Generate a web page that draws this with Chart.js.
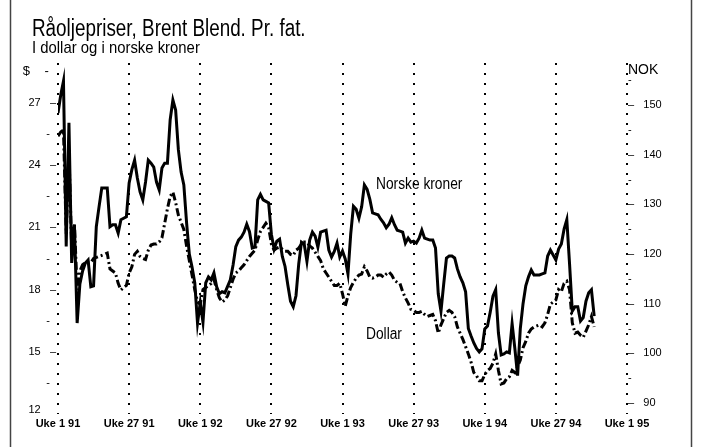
<!DOCTYPE html>
<html lang="no">
<head>
<meta charset="utf-8">
<title>Råoljepriser, Brent Blend</title>
<script src="https://cdn.jsdelivr.net/npm/chart.js@4.4.1/dist/chart.umd.min.js"></script>
<style>
  html, body { margin: 0; padding: 0; background: #fff; }
  canvas { display: block; }
</style>
</head>
<body>
<canvas id="chart" width="703" height="447"></canvas>
<script>
// Ukespriser fra uke 1 1991 (indeks 0 = uke 1 91)
const nokPerFat = [
  148.4, 152, 154.8, 121.5, 146.4, 118.2, 125.9, 106.1, 114, 116.6,
  118.2, 118.8, 113.4, 113.6, 125.5, 129.5, 133.3, 133.3, 133.3, 125.5,
  125.9, 125.9, 124.2, 126.9, 127.2, 127.5, 134.3, 137, 138.9, 135.3,
  132.5, 130.9, 134.5, 138.9, 138.3, 137.5, 134.5, 132.9, 137.3, 138.3,
  138.3, 147, 151, 149, 141, 136.5, 133.9, 126.3, 120, 117.4,
  114.2, 106.1, 110.2, 106.3, 114.2, 115.4, 114.8, 116.2, 113.4, 112,
  112.4, 112.2, 113.5, 114.8, 117.8, 121.5, 122.8, 123.4, 124.4, 126,
  124.5, 121.2, 121.4, 130.9, 132, 130.9, 130.6, 130.3, 124, 121,
  122.6, 123, 119.5, 117.5, 113.8, 110.5, 109.4, 111.6, 118, 122.4,
  122, 118.5, 122.8, 124.4, 123.6, 121.4, 124.4, 124.6, 124.8, 120.8,
  119.4, 120.5, 122.2, 119.4, 120.6, 119, 116, 124, 129.6, 129,
  127.2, 129.5, 133.9, 133, 131, 128.3, 128.1, 127.9, 127, 126.3,
  125.3, 126, 127.3, 125.9, 124.8, 124.6, 124.4, 122.2, 123.2, 122.4,
  122.6, 122.2, 123.2, 124.8, 123.2, 123, 122.8, 122.8, 121.2, 112,
  108.5, 114, 119.2, 119.6, 119.6, 119.2, 117, 115.4, 114.2, 112.4,
  105, 103.5, 102.1, 101, 100.3, 100.9, 104.9, 105.5, 108.3, 111.5,
  112.8, 104.1, 99.7, 99.9, 100.3, 100.1, 106, 101, 95.5, 105,
  110, 113.6, 115.4, 116.8, 115.8, 115.8, 115.8, 116, 116.2, 119.6,
  120.8, 119.8, 118.8, 121, 122, 125, 126.9, 118, 108.5, 109.4,
  109.4, 106.5, 107.2, 110.5, 112.2, 112.8, 107.5
];

const usdPerFat = [
  25.4, 25.6, 25.7, 20.7, 24.6, 20, 21.2, 18, 18.9, 19.2,
  19.3, 19.3, 19.3, 19.5, 19.55, 19.6, 19.65, 19.7, 19.76, 19.0,
  18.9, 18.8, 18.3, 17.98, 18.1, 18.2, 18.8, 19.1, 19.7, 19.85,
  19.6, 19.5, 19.45, 19.9, 20.15, 20.2, 20.2, 20.3, 20.5, 21.2,
  21.9, 22.5, 22.7, 22.2, 21.6, 21.25, 20.9, 20.1, 19.4, 18.7,
  18.0, 17.4, 17.3, 18.0, 18.1, 18.2, 18.3, 18.5, 18.0, 17.6,
  17.4, 17.5, 17.7, 18.1, 18.5, 18.8, 18.9, 19.05, 19.2, 19.4,
  19.6, 19.75, 19.9, 20.4, 20.8, 21.0, 21.2, 21.0, 20.2, 19.9,
  20.0, 20.05, 19.95, 19.85, 19.85, 19.7, 19.65, 19.9, 20.0, 20.2,
  20.3, 20.3, 20.1, 20.0, 19.8, 19.6, 19.4, 19.0, 18.8, 18.6,
  18.4, 18.2, 18.2, 18.3, 17.8, 17.2, 17.7, 18.1, 18.35, 18.55,
  18.7, 18.75, 19.1, 18.9, 18.6, 18.55, 18.6, 18.7, 18.7, 18.6,
  18.75, 18.85, 18.7, 18.45, 18.35, 18.3, 17.9, 17.6, 17.35, 17.05,
  17.0, 16.9, 16.9, 16.95, 16.8, 16.7, 16.75, 16.8, 16.5, 15.9,
  16.3, 16.6, 16.9, 17.0, 16.9, 16.7, 16.2, 15.9, 15.6, 15.25,
  14.9, 14.5, 14.0, 13.85, 13.6, 13.6, 13.9, 14.1, 14.2, 14.45,
  14.9, 14.1, 13.45, 13.5, 13.7, 13.8, 14.1, 14.0, 14.3, 14.6,
  15.2, 15.5, 15.9, 16.1, 16.2, 16.25, 16.3, 16.2, 16.4, 16.8,
  17.3, 17.4, 17.5, 18.0, 17.9, 18.3, 18.4, 18.0, 16.4, 15.9,
  15.95, 15.8, 15.7, 16.0, 16.3, 16.7, 16.2
];

const weekTicks = [0, 26, 52, 78, 104, 130, 156, 182, 208];
const weekTickLabels = [
  "Uke 1 91", "Uke 27 91", "Uke 1 92", "Uke 27 92", "Uke 1 93",
  "Uke 27 93", "Uke 1 94", "Uke 27 94", "Uke 1 95"
];

const usdTicks = [12, 13.5, 15, 16.5, 18, 19.5, 21, 22.5, 24, 25.5, 27, 28.5];
const usdTickLabels = ["12", "", "15", "", "18", "", "21", "", "24", "", "27", "$"];

const nokTicks = [90, 95, 100, 105, 110, 115, 120, 125, 130, 135, 140, 145, 150, 155, 157];
const nokTickLabels = ["90", "", "100", "", "110", "", "120", "", "130", "", "140", "", "150", "", "NOK"];

const TITLE = "Råoljepriser, Brent Blend. Pr. fat.";
const SUBTITLE = "I dollar og i norske kroner";

const FONT = '"Liberation Sans", Arial, sans-serif';
Chart.defaults.font.family = FONT;
Chart.defaults.color = "#000";

function usdLabel(label, index) {
  if (label === "") return "-  ";
  if (label === "$") return "$    -  ";
  if (index === 0) return [label + "     ", ""];
  return label + "   –";
}

function nokLabel(label) {
  if (label === "") return "-";
  if (label === "NOK") return label;
  return "–   " + label;
}

// smal tekst: vanlig skrift klemt sammen horisontalt
function narrowText(ctx, text, x, y, sx) {
  ctx.save();
  ctx.translate(x, y);
  ctx.scale(sx, 1);
  ctx.fillText(text, 0, 0);
  ctx.restore();
}

// tekst og ramme tegnes etter grafen
const textPlugin = {
  id: "tekster",
  afterDraw(chart) {
    const ctx = chart.ctx;
    ctx.save();
    ctx.fillStyle = "#000";
    ctx.textBaseline = "alphabetic";
    ctx.textAlign = "left";
    ctx.font = `23px ${FONT}`;
    narrowText(ctx, TITLE, 32, 36, 0.82);
    ctx.font = `17px ${FONT}`;
    narrowText(ctx, SUBTITLE, 32, 53, 0.875);
    ctx.font = `16px ${FONT}`;
    narrowText(ctx, "Norske kroner", 376, 189, 0.86);
    narrowText(ctx, "Dollar", 366, 339, 0.86);

    ctx.strokeStyle = "#444";
    ctx.lineWidth = 1.5;
    ctx.beginPath();
    ctx.moveTo(10.5, 0);
    ctx.lineTo(10.5, 447);
    ctx.moveTo(691.5, 0);
    ctx.lineTo(691.5, 447);
    ctx.stroke();
    ctx.restore();
  },
};

new Chart(document.getElementById("chart"), {
  type: "line",
  data: {
    datasets: [
      {
        label: "Norske kroner",
        data: nokPerFat.map((v, i) => ({ x: i, y: v })),
        yAxisID: "nok",
        borderColor: "#000",
        borderWidth: 3,
        pointRadius: 0,
        tension: 0,
        borderJoinStyle: "miter",
      },
      {
        label: "Dollar",
        data: usdPerFat.map((v, i) => ({ x: i, y: v })),
        yAxisID: "usd",
        borderColor: "#000",
        borderWidth: 3,
        borderDash: [8, 3, 2, 3],
        pointRadius: 0,
        tension: 0,
        borderJoinStyle: "miter",
      },
    ],
  },
  options: {
    responsive: false,
    animation: false,
    devicePixelRatio: 1,
    layout: { padding: { top: 63, left: 0, right: 0, bottom: 0 } },
    plugins: {
      legend: { display: false },
      tooltip: { enabled: false },
      title: { display: false },
    },
    scales: {
      x: {
        type: "linear",
        position: "bottom",
        min: 0,
        max: 208,
        afterBuildTicks: (s) => { s.ticks = weekTicks.map((v) => ({ value: v })); },
        afterFit: (s) => { s.height = 33; },
        ticks: {
          callback: (v, i) => weekTickLabels[i],
          font: { size: 11, weight: "bold" },
          padding: 3,
          maxRotation: 0,
          autoSkip: false,
        },
        grid: { color: "#000", lineWidth: 2, drawTicks: false },
        border: { display: false, dash: [2, 8] },
      },
      usd: {
        type: "linear",
        position: "left",
        min: 12,
        max: 28.93,
        afterBuildTicks: (s) => { s.ticks = usdTicks.map((v) => ({ value: v })); },
        afterFit: (s) => { s.width = 58; },
        ticks: {
          callback: (v, i) => usdLabel(usdTickLabels[i], i),
          font: (c) => ({ size: c.tick && c.tick.value === 28.5 ? 13 : 11, lineHeight: 0.7 }),
          padding: 2,
          autoSkip: false,
        },
        grid: { display: false, drawTicks: false },
        border: { display: false },
      },
      nok: {
        type: "linear",
        position: "right",
        min: 87.79,
        max: 158.46,
        afterBuildTicks: (s) => { s.ticks = nokTicks.map((v) => ({ value: v })); },
        afterFit: (s) => { s.width = 76; },
        ticks: {
          callback: (v, i) => nokLabel(nokTickLabels[i]),
          font: (c) => ({ size: c.tick && c.tick.value === 157 ? 14 : 11 }),
          padding: 1,
          autoSkip: false,
        },
        grid: { display: false, drawTicks: false },
        border: { display: false },
      },
    },
  },
  plugins: [textPlugin],
});
</script>
</body>
</html>
